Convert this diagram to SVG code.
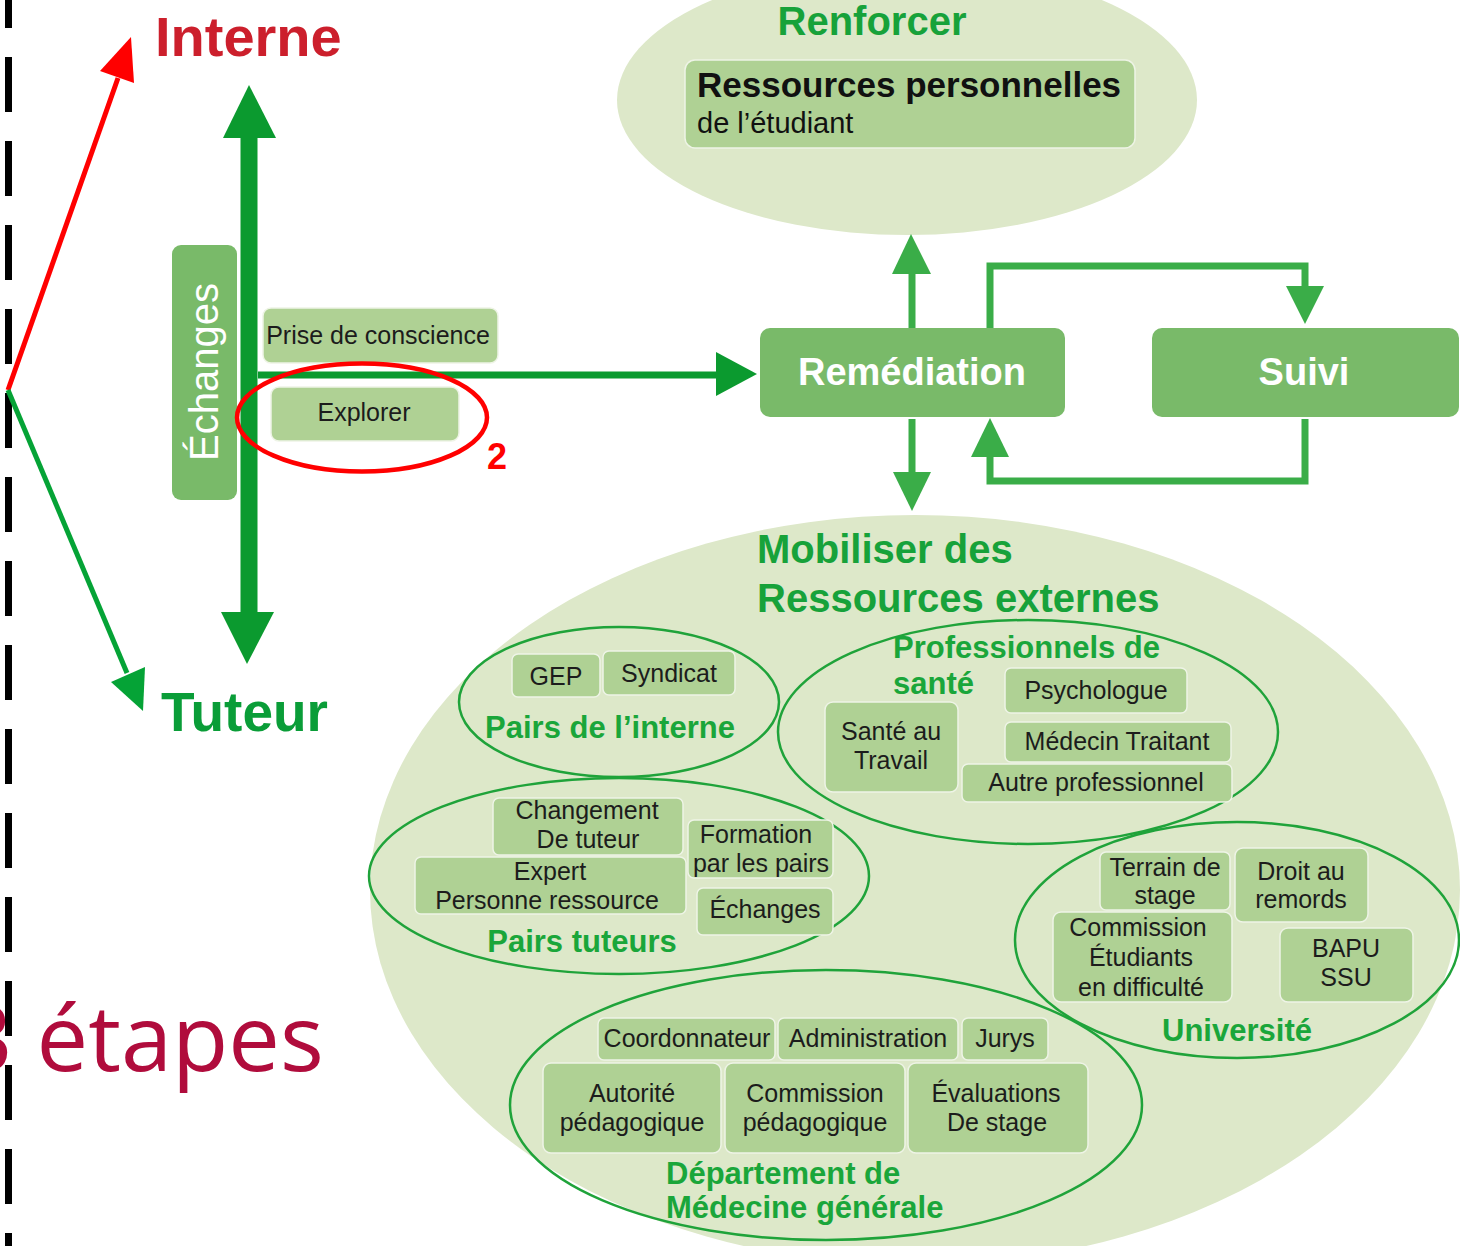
<svg xmlns="http://www.w3.org/2000/svg" width="1460" height="1246" viewBox="0 0 1460 1246">
<defs>
<style>
.bg{fill:#ffffff}
.cloud{fill:#dde8c9}
.box{fill:#afd194;stroke:#eef4e6;stroke-width:1.5}
.mbox{fill:#79ba69}
.grp{fill:none;stroke:#1fa33a;stroke-width:2.5}
.t{font-family:"Liberation Sans",Arial,sans-serif;font-size:25px;fill:#1c1c1c;text-anchor:middle}
.g{font-family:"Liberation Sans",Arial,sans-serif;font-weight:bold;font-size:31px;fill:#1aa63a}
.big{font-family:"Liberation Sans",Arial,sans-serif;font-weight:bold;font-size:40px;fill:#17a23a}
.w{font-family:"Liberation Sans",Arial,sans-serif;font-weight:bold;font-size:38px;fill:#ffffff;text-anchor:middle}
.dk{fill:none;stroke:#0b9a2f}
.lt{fill:none;stroke:#3aad48;stroke-width:7}
</style>
</defs>
<rect class="bg" x="0" y="0" width="1460" height="1246"/>

<g id="title-etapes">
<text x="-40" y="1071" font-family="'Open Sans',Lato,sans-serif" font-size="92" fill="#b00c3c">3 étapes</text>
</g>

<g id="divider">
<line x1="8.5" y1="0" x2="8.5" y2="1246" stroke="#000000" stroke-width="7" stroke-dasharray="55 29" stroke-dashoffset="27"/>
</g>

<g id="cloud-renforcer">
<ellipse class="cloud" cx="907" cy="100" rx="290" ry="135"/>
<text x="872" y="35" class="big" font-size="38" text-anchor="middle">Renforcer</text>
</g>

<g id="cloud-mobiliser">
<ellipse class="cloud" cx="915" cy="890" rx="545" ry="375"/>
<text x="757" y="563" class="big">Mobiliser des</text>
<text x="757" y="612" class="big">Ressources externes</text>
</g>

<g id="connectors">
<line x1="8" y1="390" x2="118" y2="78" stroke="#ff0000" stroke-width="5"/>
<polygon points="131,37 134,83 100,71" fill="#ff0000"/>
<line x1="8" y1="390" x2="127" y2="673" stroke="#05a336" stroke-width="5"/>
<polygon points="143,711 111,682 145,667" fill="#05a336"/>
<line class="dk" x1="249" y1="130" x2="249" y2="620" stroke-width="17"/>
<polygon points="249,85 223,138 276,138" fill="#0b9a2f"/>
<polygon points="247,664 221,612 274,612" fill="#0b9a2f"/>
<line class="dk" x1="258" y1="375" x2="720" y2="375" stroke-width="7"/>
<polygon points="757,374 716,352 716,396" fill="#0b9a2f"/>
<line class="lt" x1="912" y1="328" x2="912" y2="268"/>
<polygon points="911,234 892,274 931,274" fill="#3aad48"/>
<polyline class="lt" points="990,328 990,266 1305,266 1305,292"/>
<polygon points="1305,324 1286,286 1324,286" fill="#3aad48"/>
<polyline class="lt" points="1305,419 1305,481 990,481 990,452"/>
<polygon points="990,418 971,457 1009,457" fill="#3aad48"/>
<line class="lt" x1="912" y1="419" x2="912" y2="478"/>
<polygon points="912,511 893,472 931,472" fill="#3aad48"/>
</g>

<g id="label-interne">
<text x="155" y="56" font-family="'Liberation Sans',Arial,sans-serif" font-weight="bold" font-size="56" fill="#cc1f2c">Interne</text>
</g>
<g id="label-tuteur">
<text x="161" y="731" font-family="'Liberation Sans',Arial,sans-serif" font-weight="bold" font-size="55" fill="#0a9d38">Tuteur</text>
</g>

<g id="node-echanges">
<rect class="mbox" x="172" y="245" width="65" height="255" rx="9"/>
<text transform="translate(218,372) rotate(-90)" font-family="'Liberation Sans',Arial,sans-serif" font-size="40" fill="#ffffff" text-anchor="middle">Échanges</text>
</g>

<g id="node-prise">
<rect class="box" x="263" y="308" width="235" height="55" rx="8"/>
<text class="t" x="378" y="344" font-size="25.5">Prise de conscience</text>
</g>

<g id="node-explorer">
<rect class="box" x="271" y="387" width="188" height="54" rx="8"/>
<text class="t" x="364" y="421">Explorer</text>
</g>

<g id="highlight-2">
<ellipse cx="362" cy="417.5" rx="125" ry="54" fill="none" stroke="#ff0000" stroke-width="4.5"/>
<text x="487" y="469" font-family="'Liberation Sans',Arial,sans-serif" font-weight="bold" font-size="36" fill="#ff0000">2</text>
</g>

<g id="node-ressources-perso">
<rect class="box" x="685" y="60" width="450" height="88" rx="10"/>
<text x="697" y="97" font-family="'Liberation Sans',Arial,sans-serif" font-weight="bold" font-size="35" fill="#111111">Ressources personnelles</text>
<text x="697" y="133" font-family="'Liberation Sans',Arial,sans-serif" font-size="29" fill="#111111">de l’étudiant</text>
</g>

<g id="node-remediation">
<rect class="mbox" x="760" y="328" width="305" height="89" rx="10"/>
<text class="w" x="912" y="385" font-size="37">Remédiation</text>
</g>

<g id="node-suivi">
<rect class="mbox" x="1152" y="328" width="307" height="89" rx="10"/>
<text class="w" x="1304" y="385">Suivi</text>
</g>

<g id="group-pairs-interne">
<ellipse class="grp" cx="619" cy="702" rx="160" ry="75"/>
<rect class="box" x="512" y="654" width="88" height="43" rx="6"/>
<text class="t" x="556" y="685">GEP</text>
<rect class="box" x="603" y="651" width="132" height="44" rx="6"/>
<text class="t" x="669" y="682">Syndicat</text>
<text class="g" x="610" y="738" text-anchor="middle">Pairs de l’interne</text>
</g>

<g id="group-professionnels">
<ellipse class="grp" cx="1028" cy="732" rx="250" ry="112"/>
<text class="g" x="893" y="658">Professionnels de</text>
<text class="g" x="893" y="694">santé</text>
<rect class="box" x="1005" y="668" width="182" height="45" rx="6"/>
<text class="t" x="1096" y="699">Psychologue</text>
<rect class="box" x="825" y="702" width="133" height="90" rx="8"/>
<text class="t" x="891" y="740">Santé au</text>
<text class="t" x="891" y="769">Travail</text>
<rect class="box" x="1005" y="722" width="226" height="40" rx="6"/>
<text class="t" x="1117" y="750">Médecin Traitant</text>
<rect class="box" x="962" y="764" width="270" height="38" rx="6"/>
<text class="t" x="1096" y="791">Autre professionnel</text>
</g>

<g id="group-pairs-tuteurs">
<ellipse class="grp" cx="619" cy="876" rx="250" ry="98"/>
<rect class="box" x="493" y="798" width="190" height="57" rx="6"/>
<text class="t" x="587" y="819">Changement</text>
<text class="t" x="588" y="848">De tuteur</text>
<rect class="box" x="415" y="857" width="271" height="57" rx="6"/>
<text class="t" x="550" y="880">Expert</text>
<text class="t" x="547" y="909">Personne ressource</text>
<rect class="box" x="688" y="820" width="145" height="58" rx="6"/>
<text class="t" x="756" y="843">Formation</text>
<text class="t" x="761" y="872">par les pairs</text>
<rect class="box" x="697" y="888" width="136" height="47" rx="6"/>
<text class="t" x="765" y="918">Échanges</text>
<text class="g" x="582" y="952" text-anchor="middle">Pairs tuteurs</text>
</g>

<g id="group-universite">
<ellipse class="grp" cx="1237" cy="940" rx="222" ry="118"/>
<rect class="box" x="1100" y="852" width="130" height="58" rx="6"/>
<text class="t" x="1165" y="876">Terrain de</text>
<text class="t" x="1165" y="904">stage</text>
<rect class="box" x="1235" y="848" width="133" height="74" rx="8"/>
<text class="t" x="1301" y="880">Droit au</text>
<text class="t" x="1301" y="908">remords</text>
<rect class="box" x="1053" y="912" width="179" height="90" rx="8"/>
<text class="t" x="1138" y="936">Commission</text>
<text class="t" x="1141" y="966">Étudiants</text>
<text class="t" x="1141" y="996">en difficulté</text>
<rect class="box" x="1280" y="928" width="133" height="74" rx="8"/>
<text class="t" x="1346" y="957">BAPU</text>
<text class="t" x="1346" y="986">SSU</text>
<text class="g" x="1237" y="1041" text-anchor="middle" font-size="29">Université</text>
</g>

<g id="group-departement">
<ellipse class="grp" cx="826" cy="1105" rx="316" ry="135"/>
<rect class="box" x="598" y="1018" width="177" height="42" rx="6"/>
<text class="t" x="687" y="1047">Coordonnateur</text>
<rect class="box" x="778" y="1018" width="180" height="42" rx="6"/>
<text class="t" x="868" y="1047">Administration</text>
<rect class="box" x="962" y="1018" width="86" height="42" rx="6"/>
<text class="t" x="1005" y="1047">Jurys</text>
<rect class="box" x="543" y="1063" width="178" height="90" rx="8"/>
<text class="t" x="632" y="1102">Autorité</text>
<text class="t" x="632" y="1131">pédagogique</text>
<rect class="box" x="725" y="1063" width="180" height="90" rx="8"/>
<text class="t" x="815" y="1102">Commission</text>
<text class="t" x="815" y="1131">pédagogique</text>
<rect class="box" x="908" y="1063" width="180" height="90" rx="8"/>
<text class="t" x="996" y="1102">Évaluations</text>
<text class="t" x="997" y="1131">De stage</text>
<text class="g" x="666" y="1184">Département de</text>
<text class="g" x="666" y="1218">Médecine générale</text>
</g>
</svg>
